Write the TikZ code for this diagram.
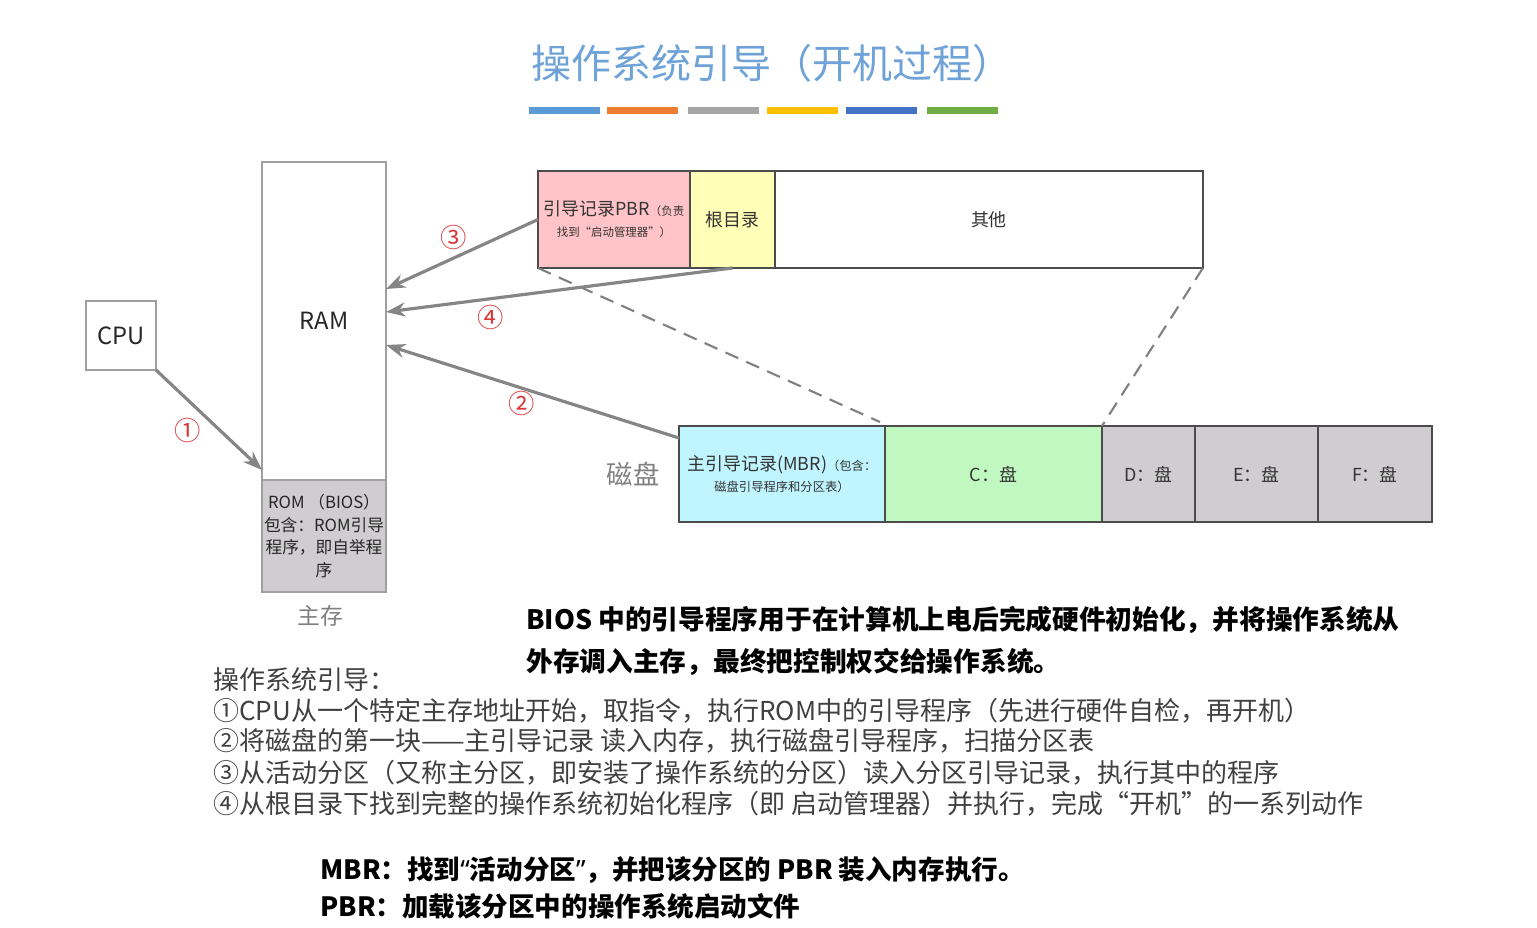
\documentclass[tikz,border=0pt]{standalone}
\usepackage{fontspec}
\setmainfont{Noto Sans CJK SC}
\newfontfamily\latinq{Noto Sans}
\newcommand\qopen{{\latinq\bfseries “}}
\newcommand\qclose{{\latinq\bfseries ”}}
\usetikzlibrary{positioning,arrows.meta}

\definecolor{titleblue}{HTML}{6FA3D8}
\definecolor{barA}{HTML}{5B9BD5}
\definecolor{barB}{HTML}{ED7D31}
\definecolor{barC}{HTML}{A5A5A5}
\definecolor{barD}{HTML}{FFC000}
\definecolor{barE}{HTML}{4472C4}
\definecolor{barF}{HTML}{70AD47}
\definecolor{pbrpink}{HTML}{FFC3C8}
\definecolor{rootyellow}{HTML}{FFFFB8}
\definecolor{mbrcyan}{HTML}{C0F5FF}
\definecolor{cgreen}{HTML}{C0F8C0}
\definecolor{diskgray}{HTML}{CFCDCF}
\definecolor{numred}{HTML}{D9383A}
\definecolor{arrowgray}{HTML}{858585}

\begin{document}
\begin{tikzpicture}[x=0.02cm,y=-0.02cm,
    box/.style={draw=gray!75,line width=0.8pt,inner sep=0pt,outer sep=0pt,text=black!85},
    part/.style={draw=black!70,line width=0.9pt,inner sep=0pt,outer sep=0pt,minimum height=1.94cm,
      font=\fontsize{10.2}{12}\selectfont,text=black!80,align=center},
    load/.style={draw=arrowgray,line width=1.8pt,-{Stealth[length=11pt,width=8pt]}},
    circnum/.style={text=numred,font=\fontsize{15}{17}\selectfont},
    note/.style={anchor=west,inner sep=0pt,text=black!75,font=\fontsize{14.8}{17}\selectfont},
    claim/.style={anchor=west,inner sep=0pt,text=black,font=\fontsize{15.2}{18}\selectfont\bfseries}]

\useasboundingbox (0,0) rectangle (1537,927);

% Title and colour bars
\node[text=titleblue,font=\fontsize{22.8}{26}\selectfont] (title) at (772,63) {操作系统引导（开机过程）};
\foreach \x/\c in {529/barA,607/barB,688/barC,767/barD,846/barE,927/barF}
  \fill[\c] (\x,107) rectangle ++(71,7);

% CPU and main memory
\node[box,minimum width=1.4cm,minimum height=1.38cm,font=\fontsize{13.5}{15}\selectfont] (cpu) at (121,335.5) {CPU};
\node[box,minimum width=2.48cm,minimum height=6.36cm,font=\fontsize{13.5}{15}\selectfont] (ram) at (324,321) {RAM};
\node[box,fill=diskgray,minimum width=2.48cm,minimum height=2.24cm,below=0pt of ram,
  align=center,font=\fontsize{9.5}{13}\selectfont] (rom) {ROM （BIOS）\\包含：ROM引导\\程序，即自举程\\序};
\node[text=gray,font=\fontsize{13}{15}\selectfont] (mem) at (320,616) {主存};

% Partition: PBR, root directory, others
\node[part,fill=pbrpink,minimum width=3.04cm] (pbr) at (614,219.5)
  {引导记录PBR{\fontsize{6.5}{8}\selectfont（负责}\\{\fontsize{6.5}{8}\selectfont 找到“启动管理器”）}};
\node[part,fill=rootyellow,minimum width=1.7cm,right=0pt of pbr] (root) {根目录};
\node[part,minimum width=8.56cm,right=0pt of root] (other) {其他};

% Disk: MBR and partitions
\node[part,fill=mbrcyan,minimum width=4.12cm,minimum height=1.92cm] (mbr) at (782,474)
  {主引导记录(MBR){\fontsize{7}{8}\selectfont（包含：}\\{\fontsize{7}{8}\selectfont 磁盘引导程序和分区表）}};
\node[part,fill=cgreen,minimum width=4.34cm,minimum height=1.92cm,right=0pt of mbr] (c) {C：盘};
\node[part,fill=diskgray,minimum width=1.86cm,minimum height=1.92cm,right=0pt of c] (d) {D：盘};
\node[part,fill=diskgray,minimum width=2.46cm,minimum height=1.92cm,right=0pt of d] (e) {E：盘};
\node[part,fill=diskgray,minimum width=2.28cm,minimum height=1.92cm,right=0pt of e] (f) {F：盘};
\node[text=gray,font=\fontsize{15}{17}\selectfont] (disk) at (633,474) {磁盘};

% Zoom lines from C: to the partition
\draw[gray,line width=1.2pt,dash pattern=on 8pt off 5pt] (pbr.south west) -- ([xshift=-0.1cm,yshift=0.08cm]c.north west);
\draw[gray,line width=1.2pt,dash pattern=on 8pt off 5pt] (other.south east) -- (c.north east);

% Boot steps
\draw[load] (cpu.south east) -- ([yshift=0.2cm]ram.south west);
\draw[load] ([yshift=-0.24cm]mbr.north west) -- ([yshift=-0.48cm]ram.east);
\draw[load] (pbr.west) -- ([yshift=0.64cm]ram.east);
\draw[load] (root.south) -- ([yshift=0.18cm]ram.east);
\node[circnum] (n1) at (188,430) {①};
\node[circnum] (n2) at (522,403) {②};
\node[circnum] (n3) at (454,237) {③};
\node[circnum] (n4) at (491,317) {④};

% Text
\node[claim] (bios1) at (526,620) {BIOS 中的引导程序用于在计算机上电后完成硬件初始化，并将操作系统从};
\node[claim] (bios2) at (526,662) {外存调入主存，最终把控制权交给操作系统。};
\node[note] (s0) at (213,680) {操作系统引导：};
\node[note] (s1) at (213,711) {①CPU从一个特定主存地址开始，取指令，执行ROM中的引导程序（先进行硬件自检，再开机）};
\node[note] (s2) at (213,741) {②将磁盘的第一块——主引导记录 读入内存，执行磁盘引导程序，扫描分区表};
\node[note] (s3) at (213,773) {③从活动分区（又称主分区，即安装了操作系统的分区）读入分区引导记录，执行其中的程序};
\node[note] (s4) at (213,804) {④从根目录下找到完整的操作系统初始化程序（即 启动管理器）并执行，完成“开机”的一系列动作};
\node[claim,font=\fontsize{15.1}{17}\selectfont\bfseries] (mbrnote) at (320,870) {MBR：找到\qopen 活动分区\qclose ，并把该分区的 PBR 装入内存执行。};
\node[claim,font=\fontsize{15.1}{17}\selectfont\bfseries] (pbrnote) at (320,906) {PBR：加载该分区中的操作系统启动文件};

\end{tikzpicture}
\end{document}
